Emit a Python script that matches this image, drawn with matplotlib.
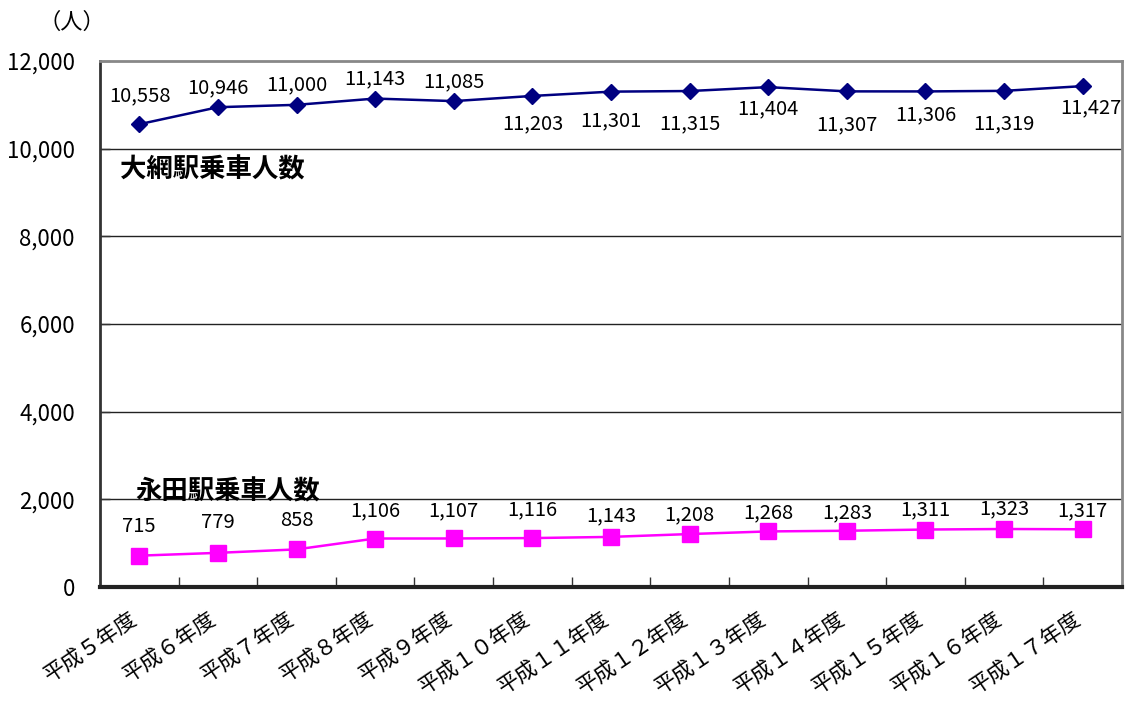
import matplotlib
matplotlib.use("Agg")
import matplotlib.pyplot as plt
import matplotlib.transforms as mtransforms
import numpy as np

plt.rcParams['font.family'] = ['Noto Sans CJK JP', 'DejaVu Sans']

years = ["平成５年度", "平成６年度", "平成７年度", "平成８年度", "平成９年度",
         "平成１０年度", "平成１１年度", "平成１２年度", "平成１３年度",
         "平成１４年度", "平成１５年度", "平成１６年度", "平成１７年度"]
oami = [10558, 10946, 11000, 11143, 11085, 11203, 11301, 11315, 11404,
        11307, 11306, 11319, 11427]
nagata = [715, 779, 858, 1106, 1107, 1116, 1143, 1208, 1268, 1283, 1311,
          1323, 1317]

# label offsets in pixels (dx, dy), positive dy = up
oami_off = [(1, 28), (0, 19), (0, 20), (0, 20), (0, 19), (0, -28), (0, -29),
            (0, -33), (0, -22), (0, -33), (0, -23), (0, -33), (8, -22)]
nagata_off = [(0, 29), (0, 30), (0, 29), (0, 28), (0, 28), (0, 28), (0, 21),
              (0, 19), (0, 19), (0, 18), (0, 20), (0, 20), (0, 18)]

x = np.arange(len(years))

fig = plt.figure(figsize=(11.26, 7.02), dpi=100)
ax = fig.add_axes([100 / 1126, 1 - 587 / 702, 1022 / 1126, 526 / 702])

ax.plot(x, oami, color="#000080", lw=1.8, marker="D", markersize=8.5, zorder=3)
ax.plot(x, nagata, color="#FF00FF", lw=1.8, marker="s", markersize=11, zorder=3)

for i, v in enumerate(oami):
    dx, dy = oami_off[i]
    ax.annotate(f"{v:,}", (x[i], v), xytext=(dx * 0.72, dy * 0.72),
                textcoords="offset points", ha="center", va="center",
                fontsize=14.5)
for i, v in enumerate(nagata):
    dx, dy = nagata_off[i]
    ax.annotate(f"{v:,}", (x[i], v), xytext=(dx * 0.72, dy * 0.72),
                textcoords="offset points", ha="center", va="center",
                fontsize=14.5)

ax.set_xlim(-0.5, len(years) - 0.5)
ax.set_ylim(0, 12000)
ax.set_yticks(np.arange(0, 12001, 2000))
ax.set_yticklabels([f"{t:,}" for t in range(0, 12001, 2000)], fontsize=16)

# category labels, rotated and drawn below the axis
ax.set_xticks(x)
ax.set_xticklabels([])
shift = mtransforms.ScaledTranslation(-10 / 100, -21 / 100, fig.dpi_scale_trans)
for i, lab in enumerate(years):
    ax.text(x[i], 0, lab, transform=ax.get_xaxis_transform() + shift,
            rotation=34, ha="right", va="top", rotation_mode="anchor",
            fontsize=15.5)

ax.set_xticks(np.arange(0.5, len(years) - 0.5, 1), minor=True)
ax.tick_params(axis="x", which="major", length=0)
ax.tick_params(axis="x", which="minor", direction="in", length=7, width=1,
               color="#333333")
ax.tick_params(axis="y", direction="in", length=7, width=1, color="#333333",
               pad=18)

for yv in range(2000, 12000, 2000):
    ax.axhline(yv, color="#222222", lw=1, zorder=1)

ax.spines["left"].set_color("#333333")
ax.spines["left"].set_linewidth(2)
ax.spines["bottom"].set_color("#222222")
ax.spines["bottom"].set_linewidth(3)
ax.spines["top"].set_color("#888888")
ax.spines["top"].set_linewidth(2)
ax.spines["right"].set_color("#888888")
ax.spines["right"].set_linewidth(2)

fig.text(38 / 1126, 1 - 22 / 702, "（人）", fontsize=16, va="center")
fig.text(120 / 1126, 1 - 170 / 702, "大網駅乗車人数", fontsize=19,
         fontweight="bold", va="center")
fig.text(135 / 1126, 1 - 492 / 702, "永田駅乗車人数", fontsize=19,
         fontweight="bold", va="center")

fig.savefig("out.png", dpi=100)
